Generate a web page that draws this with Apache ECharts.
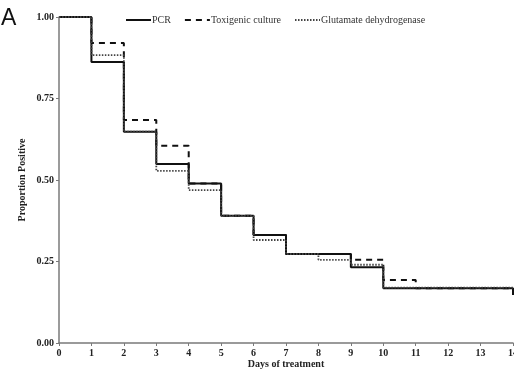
<!DOCTYPE html>
<html>
<head>
<meta charset="utf-8">
<script src="https://cdn.jsdelivr.net/npm/echarts@6/dist/echarts.min.js"></script>
<style>
html,body{margin:0;padding:0;background:#fff;}
#chart{width:514px;height:372px;}
</style>
</head>
<body>
<div id="chart"></div>
<script>
// days of treatment, value holds from day i to day i+1
var days = [0,1,2,3,4,5,6,7,8,9,10,11,12,13,14];
var pcr  = [1.00,0.862,0.648,0.549,0.489,0.390,0.331,0.273,0.273,0.232,0.168,0.168,0.168,0.168,0.147];
var tox  = [1.00,0.920,0.684,0.605,0.489,0.390,0.331,0.273,0.273,0.255,0.193,0.168,0.168,0.168,0.168];
var gdh  = [1.00,0.883,0.648,0.528,0.469,0.390,0.316,0.273,0.255,0.240,0.170,0.170,0.170,0.170,0.170];
var yTicks = [0,0.25,0.5,0.75,1];
var names = ['PCR','Toxigenic culture','Glutamate dehydrogenase'];

function pairs(ys){
	var out=[];
	for(var i=0;i<days.length;i++) out.push([days[i],ys[i]]);
	return out;
}
var serif='"Liberation Serif","DejaVu Serif",serif';
var axisGray='#7a7a7a';

function mkSeries(name,ys,type,width,color){
	return {
		name:name,
		type:'line',
		step:'end',
		data:pairs(ys),
		symbol:'none',
		lineStyle:{color:color,width:width,type:type},
		itemStyle:{color:color},
		z: type=='solid'?3:(type=='dashed'?4:5)
	};
}

var mychart = echarts.init(document.getElementById('chart'));
var option = {
	animation:false,
	backgroundColor:'#fff',
	graphic:[{
		type:'text',left:1,top:7,
		style:{text:'A',font:'23px "Liberation Sans",Arial,sans-serif',fill:'#111'}
	}],
	legend:{
		top:10,left:120,
		itemWidth:25,itemHeight:10,itemGap:13,
		itemStyle:{opacity:0},
		textStyle:{fontFamily:serif,fontSize:10,color:'#333',padding:[0,0,0,-4]},
		data:names
	},
	grid:{left:59,right:1,top:17,bottom:29,containLabel:false,outerBoundsMode:'none'},
	xAxis:{
		type:'value',min:0,max:14,interval:1,
		name:'Days of treatment',nameLocation:'middle',nameGap:16,nameMoveOverlap:false,
		nameTextStyle:{fontFamily:serif,fontSize:10,fontWeight:'bold',color:'#222'},
		axisLine:{lineStyle:{color:axisGray,width:1.5}},
		axisTick:{length:3,lineStyle:{color:axisGray}},
		axisLabel:{fontFamily:serif,fontSize:10,fontWeight:'bold',color:'#222',margin:5},
		splitLine:{show:false}
	},
	yAxis:{
		type:'value',min:0,max:1,interval:0.25,
		name:'Proportion Positive',nameLocation:'middle',nameGap:32,nameMoveOverlap:false,
		nameTextStyle:{fontFamily:serif,fontSize:10,fontWeight:'bold',color:'#222'},
		axisLine:{show:true,lineStyle:{color:axisGray,width:1.5}},
		axisTick:{show:true,length:3,lineStyle:{color:axisGray}},
		axisLabel:{fontFamily:serif,fontSize:10,fontWeight:'bold',color:'#222',margin:5,
			formatter:function(v){return yTicks.indexOf(v)>=0?v.toFixed(2):'';}},
		splitLine:{show:false}
	},
	series:[
		mkSeries(names[0],pcr,'solid',2,'#111'),
		mkSeries(names[1],tox,[6,5],2,'#111'),
		mkSeries(names[2],gdh,[1.5,1.5],1.8,'#444')
	]
};
mychart.setOption(option);
</script>
</body>
</html>
